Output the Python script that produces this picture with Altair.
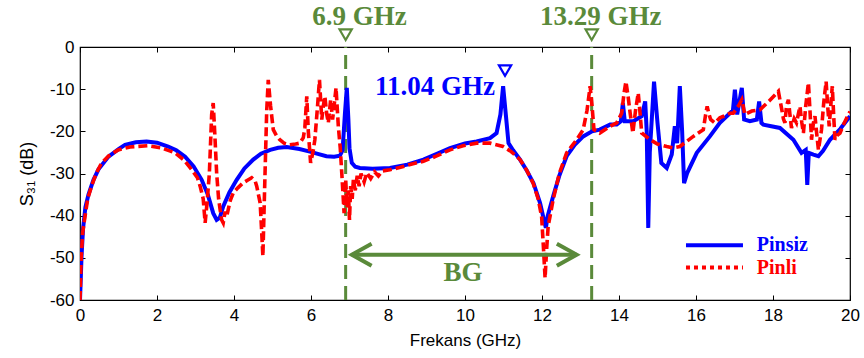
import altair as alt
import pandas as pd

# ---------------- data ----------------
pinsiz_f = [0.0, 0.02, 0.04, 0.08, 0.14, 0.22, 0.35, 0.48, 0.74, 1.0, 1.17, 1.45, 1.73, 2.0, 2.29,
            2.5, 2.73, 2.95, 3.16, 3.32, 3.46, 3.55, 3.63, 3.72, 3.88, 4.07, 4.27, 4.5, 4.7, 4.94,
            5.15, 5.37, 5.7, 5.97, 6.2, 6.4, 6.6, 6.75, 6.82, 6.88, 6.93, 6.97, 7.0, 7.06, 7.15,
            7.27, 7.6, 8.05, 8.5, 8.92, 9.3, 9.61, 10.0, 10.3, 10.65, 10.82, 10.92, 10.99, 11.06,
            11.13, 11.25, 11.43, 11.6, 11.78, 11.95, 12.05, 12.1, 12.15, 12.29, 12.45, 12.64, 12.85,
            13.07, 13.3, 13.5, 13.77, 13.94, 14.05, 14.1, 14.15, 14.37, 14.59, 14.68, 14.72, 14.76,
            14.8, 14.91, 15.0, 15.1, 15.24, 15.37, 15.45, 15.51, 15.58, 15.64, 15.69, 15.77, 16.02,
            16.36, 16.62, 16.88, 16.96, 17.01, 17.07, 17.19, 17.25, 17.4, 17.58, 17.64, 17.7, 17.75, 18.18,
            18.53, 18.74, 18.85, 18.89, 18.93, 19.05, 19.18, 19.3, 19.48, 19.75, 20.0]
pinsiz_db = [-60, -55, -49.6, -43, -38, -35, -31.5, -29, -26, -24.2, -23.2, -22.6, -22.4, -22.7, -23.6,
             -24.5, -26, -28.3, -31.5, -35, -39.4, -41, -40.5, -37.8, -34.5, -31.5, -28.8, -26.7, -25.3, -24.4,
             -23.9, -23.7, -24.2, -24.8, -25.4, -25.9, -26.0, -25.8, -24.5, -16, -9.7, -17, -24, -27.5, -28.4,
             -28.7, -28.9, -28.7, -27.9, -26.7, -25.2, -24.0, -22.9, -22.4, -21.6, -20.4, -16, -9.3, -16,
             -22.8, -24.5, -26.7, -29.2, -32.3, -37, -41, -42.9, -40, -35.4, -30.5, -25.9, -23.2,
             -21.2, -20.0, -19.6, -18.4, -18.4, -17.6, -13.3, -17.6, -17.6, -16.4, -12.9, -20, -42.9,
             -25, -8.2, -18, -27.5, -28.7, -25.5, -18.8, -22.8, -9.3, -20, -32.3, -29.9, -25.1,
             -21.2, -18.0, -15.7, -15, -10.1, -16, -9.7, -17.2, -17.6, -17.2, -12.9, -18, -18.4, -19.2,
             -22, -25.1, -24.4, -32.7, -25.1, -25.5, -25.9, -24.6, -22, -19.4, -16.4]

pinli_f = [0.0, 0.03, 0.07, 0.13, 0.2, 0.3, 0.42, 0.56, 0.75, 0.99, 1.3, 1.77, 2.1, 2.47, 2.7, 2.9,
           3.05, 3.12, 3.2, 3.25, 3.3, 3.36, 3.42, 3.46, 3.5, 3.55, 3.6, 3.64, 3.68, 3.72, 3.77, 3.81,
           3.9, 3.98, 4.1, 4.24, 4.35, 4.46, 4.55, 4.59, 4.68, 4.72, 4.75, 4.8, 4.85, 4.89, 4.95, 5.02,
           5.1, 5.19, 5.3, 5.45, 5.6, 5.71, 5.8, 5.84, 5.89, 5.93, 5.99, 6.05, 6.1, 6.17, 6.22, 6.28,
           6.32, 6.36, 6.41, 6.45, 6.51, 6.56, 6.6, 6.65, 6.71, 6.76, 6.8, 6.86, 6.9, 6.94, 6.97, 7.0,
           7.03, 7.07, 7.1, 7.15, 7.2, 7.25, 7.3, 7.38, 7.45, 7.55, 7.65, 7.75, 7.85, 8.05, 8.3, 8.6,
           8.92, 9.25, 9.61, 9.95, 10.3, 10.65, 10.99, 11.2, 11.43, 11.6, 11.77, 11.9, 11.99, 12.04,
           12.08, 12.12, 12.16, 12.29, 12.45, 12.64, 12.9, 13.07, 13.17, 13.25, 13.3, 13.35, 13.5,
           13.77, 13.94, 14.07, 14.13, 14.18, 14.24, 14.29, 14.36, 14.43, 14.5, 14.55, 14.59, 14.81,
           15.0, 15.24, 15.4, 15.58, 15.93, 16.19, 16.25, 16.29, 16.34, 16.38, 16.49, 16.62, 16.88,
           16.97, 17.1, 17.19, 17.27, 17.45, 17.66, 17.9, 18.14, 18.19, 18.23, 18.27, 18.31, 18.35,
           18.4, 18.44, 18.48, 18.55, 18.61, 18.7, 18.75, 18.79, 18.85, 18.92, 18.96, 19.0, 19.05,
           19.09, 19.14, 19.18, 19.22, 19.26, 19.32, 19.38, 19.42, 19.46, 19.5, 19.54, 19.58, 19.61,
           19.66, 19.74, 19.85, 20.0]
pinli_db = [-60, -50, -44, -40.2, -36, -33, -30, -27.5, -25.8, -24.4, -23.7, -23.4, -23.9, -25.1, -26.8, -29.1,
            -31, -33, -36, -41.7, -37, -30, -16, -13.3, -20.4, -30, -36, -38.6, -41, -41.7, -39, -40.2,
            -36.5, -34.6, -33.4, -32.2, -31.6, -31, -31.8, -33, -37, -44, -49.6, -32, -15, -7.8, -14, -19.6,
            -21, -22, -22.8, -23.2, -23, -22.8, -21.5, -19.2, -11.7, -20, -27.5, -25, -22, -14, -7.8, -17.2,
            -14, -11.7, -16, -18, -12.5, -17.2, -14, -9.7, -18.8, -24, -30, -39.4, -31.5, -38, -34, -41,
            -33, -36, -31.5, -34, -30.5, -33, -30, -32, -29.8, -31.2, -29.6, -30.6, -29.4, -29.1, -28.6, -27.8,
            -27.1, -25.9, -24.4, -23.4, -22.8, -22.8, -23.6, -24.8, -26.7, -29.2, -32.3, -36, -40.2, -48,
            -54.8, -48, -42.5, -36.2, -30, -25.1, -22, -19.6, -15, -9.3, -14, -19.6, -20.4,
            -18.8, -18, -15.7, -11, -8.2, -12, -15.7, -20.4, -15, -10.9, -16, -20.4, -22,
            -23, -23.6, -23.9, -23.6, -21.2, -19.6, -16, -14.1, -16, -17.2, -18, -16.8, -15.7,
            -15.7, -14, -12.5, -16, -15.2, -14.9, -12.8, -10.5, -13, -14.9, -17, -18, -14,
            -12.5, -16, -19.2, -17, -18, -14.1, -18, -20.4, -14, -8.5, -15, -22, -18,
            -16.4, -21, -24.4, -22, -19.6, -13, -8.2, -14, -18.8, -14, -9.3, -17, -22,
            -21, -20.4, -18, -15.3]

# band-gap edge markers
edge_f = [6.9, 13.29]
edge_labels = ["6.9 GHz", "13.29 GHz"]
edge_label_f = [6.03, 11.95]
edge_label_db = [5.3, 5.3]
edge_marker_db = [2.9, 2.9]

# resonance marker
peak_f = [11.04]
peak_marker_db = [-5.6]
peak_label = ["11.04 GHz"]
peak_label_f = [7.66]
peak_label_db = [-11.3]

# band-gap arrow
bg_start = [7.06]
bg_end = [12.9]
bg_db = [-49.25]
bg_text = ["BG"]
bg_text_f = [9.95]
bg_text_db = [-55.6]

# legend
legend_names = ["Pinsiz", "Pinli"]
legend_x1 = [15.74, 15.74]
legend_x2 = [17.22, 17.22]
legend_db = [-47.0, -52.3]
legend_text_f = [17.58, 17.58]

BLUE = "#0000FF"
RED = "#FF0000"
GREEN = "#5A8A3A"

xs = alt.Scale(domain=[0, 20], nice=False, zero=False)
ys = alt.Scale(domain=[-60, 0], nice=False, zero=False)

AX_FONT = "Liberation Sans"
x_ticks = list(range(0, 21, 2))
y_ticks = list(range(-60, 1, 10))

x_bottom = alt.Axis(orient="bottom", values=x_ticks, offset=-5, tickSize=5, domain=False, grid=False,
                    labelPadding=7, labelFontSize=17, labelFont=AX_FONT, labelColor="black",
                    labelFlush=False, tickColor="black", title="Frekans (GHz)", titleFont=AX_FONT,
                    titleFontSize=17, titleFontWeight="normal", titleColor="black", titlePadding=9)
x_top = alt.Axis(orient="top", values=x_ticks, offset=-5, tickSize=5, domain=False, grid=False,
                 labels=False, tickColor="black", title="")
y_left = alt.Axis(orient="left", values=y_ticks, offset=-5, tickSize=5, domain=False, grid=False,
                  labelPadding=6, labelFontSize=17, labelFont=AX_FONT, labelColor="black",
                  labelFlush=False, labelExpr="'' + datum.value", tickColor="black",
                  title="S\u2083\u2081 (dB)", titleFont=AX_FONT, titleFontSize=18,
                  titleFontWeight="normal", titleColor="black", titlePadding=13)
y_right = alt.Axis(orient="right", values=y_ticks, offset=-5, tickSize=5, domain=False, grid=False,
                   labels=False, tickColor="black", title="")

df_blue = pd.DataFrame({"f": pinsiz_f, "db": pinsiz_db})
df_blue["i"] = range(len(df_blue))
df_red = pd.DataFrame({"f": pinli_f, "db": pinli_db})
df_red["i"] = range(len(df_red))

df_edges = pd.DataFrame({"f": edge_f, "lf": edge_label_f, "ly": edge_label_db,
                         "my": edge_marker_db, "label": edge_labels})
df_peak = pd.DataFrame({"f": peak_f, "my": peak_marker_db, "label": peak_label,
                        "lf": peak_label_f, "ly": peak_label_db})
df_bg = pd.DataFrame({"x1": bg_start, "x2": bg_end, "y": bg_db, "t": bg_text,
                      "tf": bg_text_f, "ty": bg_text_db})
df_leg = pd.DataFrame({"name": legend_names, "x1": legend_x1, "x2": legend_x2,
                       "y": legend_db, "tf": legend_text_f})

vlines = alt.Chart(df_edges).mark_rule(color=GREEN, strokeWidth=3, strokeDash=[14, 7]).encode(
    x=alt.X("f:Q", scale=xs, axis=x_top),
    y=alt.datum(-60, scale=ys, axis=y_right),
    y2=alt.datum(0),
)

blue = alt.Chart(df_blue).mark_line(color=BLUE, strokeWidth=4, clip=True).encode(
    x=alt.X("f:Q", scale=xs, axis=x_bottom),
    y=alt.Y("db:Q", scale=ys, axis=y_left),
    order="i:Q",
)

red = alt.Chart(df_red).mark_line(color=RED, strokeWidth=3.6, strokeDash=[9, 4], clip=True).encode(
    x=alt.X("f:Q", scale=xs, axis=None),
    y=alt.Y("db:Q", scale=ys, axis=None),
    order="i:Q",
)

edge_tri = alt.Chart(df_edges).mark_point(shape="triangle-down", size=150, filled=False,
                                          color=GREEN, strokeWidth=2.2, opacity=1).encode(
    x=alt.X("f:Q", scale=xs, axis=None), y=alt.Y("my:Q", scale=ys, axis=None))
edge_txt = alt.Chart(df_edges).mark_text(font="Liberation Serif", fontWeight="bold", fontSize=27,
                                         color=GREEN, align="left", baseline="alphabetic").encode(
    x=alt.X("lf:Q", scale=xs, axis=None), y=alt.Y("ly:Q", scale=ys, axis=None), text="label:N")

peak_tri = alt.Chart(df_peak).mark_point(shape="triangle-down", size=150, filled=False,
                                         color=BLUE, strokeWidth=2.2, opacity=1).encode(
    x=alt.X("f:Q", scale=xs, axis=None), y=alt.Y("my:Q", scale=ys, axis=None))
peak_txt = alt.Chart(df_peak).mark_text(font="Liberation Serif", fontWeight="bold", fontSize=27,
                                        color=BLUE, align="left", baseline="alphabetic").encode(
    x=alt.X("lf:Q", scale=xs, axis=None), y=alt.Y("ly:Q", scale=ys, axis=None), text="label:N")

bg_line = alt.Chart(df_bg).mark_rule(color=GREEN, strokeWidth=4).encode(
    x=alt.X("x1:Q", scale=xs, axis=None), x2="x2:Q", y=alt.Y("y:Q", scale=ys, axis=None))
bg_left = alt.Chart(df_bg).mark_point(shape="M1.8,-1L0,0L1.8,1", size=484, filled=False,
                                      color=GREEN, strokeWidth=4, opacity=1).encode(
    x=alt.X("x1:Q", scale=xs, axis=None), y=alt.Y("y:Q", scale=ys, axis=None))
bg_right = alt.Chart(df_bg).mark_point(shape="M-1.8,-1L0,0L-1.8,1", size=484, filled=False,
                                       color=GREEN, strokeWidth=4, opacity=1).encode(
    x=alt.X("x2:Q", scale=xs, axis=None), y=alt.Y("y:Q", scale=ys, axis=None))
bg_txt = alt.Chart(df_bg).mark_text(font="Liberation Serif", fontWeight="bold", fontSize=27,
                                    color=GREEN, align="center", baseline="alphabetic").encode(
    x=alt.X("tf:Q", scale=xs, axis=None), y=alt.Y("ty:Q", scale=ys, axis=None), text="t:N")

leg_color = alt.Color("name:N", scale=alt.Scale(domain=legend_names, range=[BLUE, RED]), legend=None)
leg_blue = alt.Chart(df_leg).transform_filter(alt.datum.name == "Pinsiz").mark_rule(
    strokeWidth=4).encode(x=alt.X("x1:Q", scale=xs, axis=None), x2="x2:Q",
                          y=alt.Y("y:Q", scale=ys, axis=None), color=leg_color)
leg_red = alt.Chart(df_leg).transform_filter(alt.datum.name == "Pinli").mark_rule(
    strokeWidth=4, strokeDash=[4, 4]).encode(x=alt.X("x1:Q", scale=xs, axis=None), x2="x2:Q",
                                             y=alt.Y("y:Q", scale=ys, axis=None), color=leg_color)
leg_txt = alt.Chart(df_leg).mark_text(font="Liberation Serif", fontWeight="bold", fontSize=20,
                                      align="left", baseline="middle").encode(
    x=alt.X("tf:Q", scale=xs, axis=None), y=alt.Y("y:Q", scale=ys, axis=None), text="name:N",
    color=leg_color)

chart = alt.layer(vlines, blue, red, edge_tri, edge_txt, peak_tri, peak_txt,
                  bg_line, bg_left, bg_right, bg_txt, leg_blue, leg_red, leg_txt).resolve_axis(
    x="independent", y="independent"
).properties(
    width=770, height=253,
    autosize=alt.AutoSizeParams(type="none"),
    padding={"left": 80, "top": 47, "right": 14, "bottom": 58},
    background="white",
).configure_view(stroke="black", strokeWidth=1.2)

chart.save("out.html", embed_options={"renderer": "svg", "actions": False})
